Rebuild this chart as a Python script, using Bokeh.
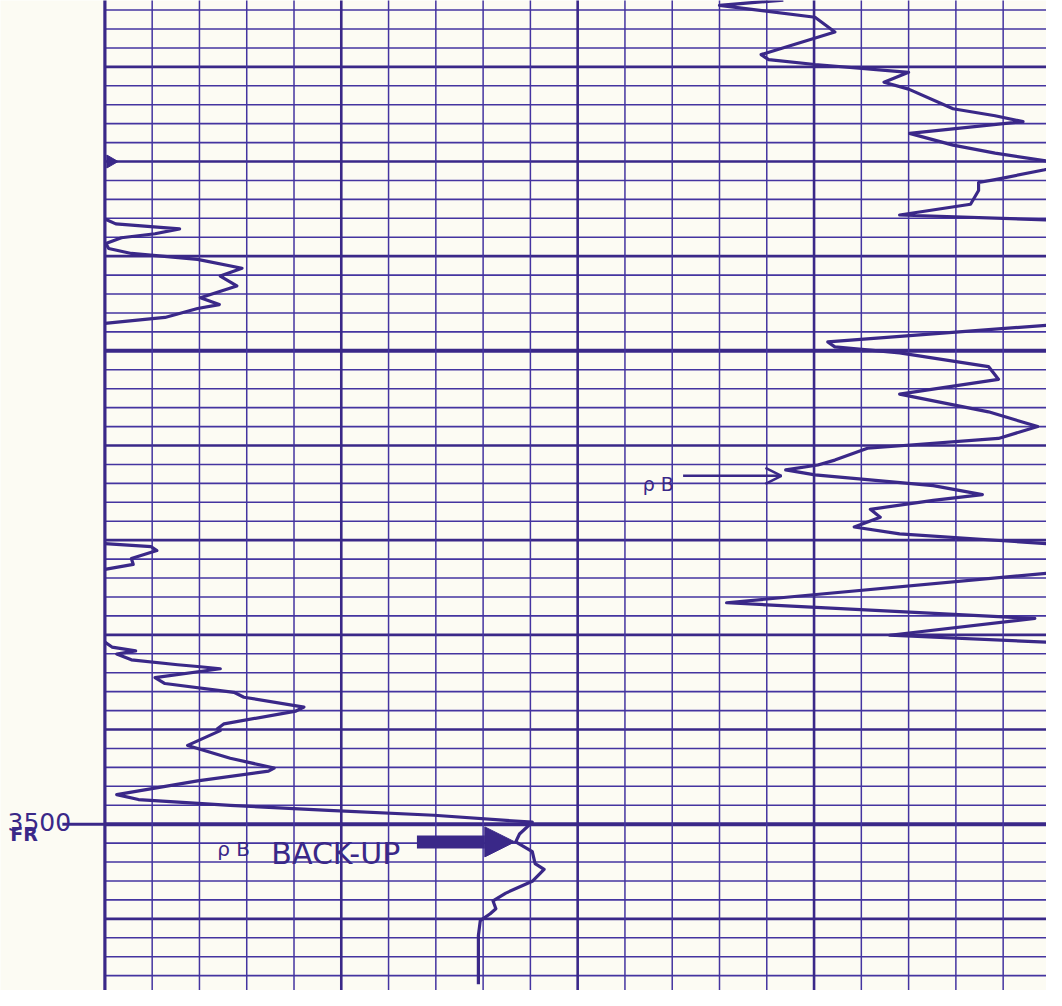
import numpy as np
from bokeh.plotting import figure
from bokeh.models import Range1d, Label, Arrow, NormalHead, OpenHead
from bokeh.embed import file_html
from bokeh.resources import INLINE

# ---------------- data (x = chart divisions 0..20, y = depth in ft) ----------------
# main rho-B curve, upper right portion
main1_value = [14.35, 13.0, 15.02, 15.44, 13.88, 14.04, 15.02, 17.0, 16.48, 17.0, 17.94, 18.83,
               19.42, 17.02, 17.94, 18.83, 19.92, 20.19, 19.88, 18.83, 18.48, 18.48, 18.31,
               16.81, 19.92, 20.29]
main1_depth = [3412.95, 3413.5, 3414.76, 3416.32, 3418.71, 3419.23, 3419.75, 3420.58, 3421.62,
               3422.35, 3424.43, 3425.16, 3425.78, 3427.03, 3428.27, 3429.11, 3429.94, 3430.35,
               3430.87, 3431.91, 3432.22, 3433.06, 3434.51, 3435.65, 3436.17, 3436.27]

# main rho-B curve, middle right portion
main2_value = [20.29, 19.92, 15.29, 15.44, 16.81, 18.69, 18.90, 16.81, 18.69, 19.73, 18.90,
               16.13, 15.44, 15.08, 14.40, 15.02, 17.52, 18.56, 17.52, 16.19, 16.40, 15.85,
               16.81, 19.92, 20.29]
main2_depth = [3447.19, 3447.30, 3449.06, 3449.58, 3450.21, 3451.66, 3453.01, 3454.57, 3456.44,
               3458.0, 3459.25, 3460.29, 3461.54, 3462.06, 3462.58, 3463.10, 3464.24, 3465.18,
               3465.80, 3466.74, 3467.57, 3468.61, 3469.33, 3470.37, 3470.47]

# main rho-B curve, lower right portion
main3_value = [20.29, 19.92, 13.15, 19.67, 16.60, 19.92, 20.29]
main3_depth = [3473.39, 3473.49, 3476.61, 3478.27, 3480.04, 3480.77, 3480.87]

# wrap-around trace in the left of the track
wrap1_value = [0.0, 0.23, 1.58, 1.06, 0.35, 0.02, 0.08, 0.56, 1.96, 2.90, 2.44, 2.79, 2.02,
               2.42, 1.96, 1.27, 0.0]
wrap1_depth = [3436.07, 3436.59, 3437.11, 3437.63, 3438.05, 3438.67, 3439.19, 3439.71, 3440.33,
               3441.27, 3442.10, 3443.14, 3444.39, 3445.11, 3445.53, 3446.47, 3447.09]

wrap2_value = [0.0, 0.98, 1.10, 0.56, 0.60, 0.0]
wrap2_depth = [3470.37, 3470.69, 3471.10, 3471.93, 3472.56, 3473.08]

# wrap-around trace leading into the back-up curve below 3500 ft
wrap3_value = [0.0, 0.15, 0.65, 0.25, 0.56, 1.54, 2.02, 2.44, 1.06, 1.27, 2.73, 2.94, 4.21,
               4.04, 2.52, 2.38, 2.44, 1.75, 2.65, 3.58, 3.46, 1.96, 0.25, 0.71, 2.65, 4.73,
               6.96, 9.04, 8.77, 8.69, 9.04, 9.10, 9.29, 9.04, 8.48, 8.21, 8.27, 8.15, 7.94,
               7.90, 7.90]
wrap3_depth = [3480.77, 3481.29, 3481.70, 3482.02, 3482.64, 3483.16, 3483.37, 3483.58, 3484.51,
               3485.14, 3486.07, 3486.59, 3487.63, 3488.05, 3489.40, 3489.92, 3490.12, 3491.68,
               3493.04, 3494.07, 3494.39, 3495.43, 3496.88, 3497.40, 3498.02, 3498.54, 3499.06,
               3499.79, 3501.04, 3501.87, 3502.91, 3504.16, 3504.78, 3506.03, 3507.28, 3508.11,
               3508.94, 3509.46, 3510.19, 3511.75, 3516.9]

# depth label and marker
depth_label = "3500"
depth_label_sub = "FR"
depth_label_value = 3500
marker_depth = 3430

# annotations
rhob_text = "ρ B"
rhob_arrow_depth = 3463.2
rhob_arrow_from = 12.23
rhob_arrow_to = 14.31
backup_text = "BACK-UP"
backup_arrow_depth = 3501.87
backup_arrow_from = 6.60
backup_arrow_to = 8.67

# grid structure
grid_divisions = list(range(0, 21))
grid_depths = list(range(3412, 3520, 2))

# ---------------- styling ----------------
INK = "#3a2888"
GRID = "#4434a0"
BG = "#fcfbf3"

p = figure(width=1046, height=990, output_backend="svg", toolbar_location=None,
           x_range=Range1d(-2.2083, 19.9167), y_range=Range1d(3517.57, 3412.99),
           x_axis_location=None, y_axis_location=None, min_border=0)
p.outline_line_color = None
p.background_fill_color = BG
p.border_fill_color = BG
p.xgrid.visible = False
p.ygrid.visible = False

# horizontal grid lines (depth)
for d in grid_depths:
    if d % 50 == 0:
        w, c = 4.0, INK
    elif d % 10 == 0:
        w, c = 2.7, INK
    else:
        w, c = 1.6, GRID
    p.segment(x0=[0], y0=[d], x1=[21], y1=[d], line_color=c, line_width=w)

# vertical grid lines
for v in grid_divisions:
    if v == 0:
        w, c = 3.2, INK
    elif v % 5 == 0:
        w, c = 2.6, INK
    else:
        w, c = 1.5, GRID
    p.segment(x0=[v], y0=[3410], x1=[v], y1=[3520], line_color=c, line_width=w)

# curves
for xs, ys in [(main1_value, main1_depth), (main2_value, main2_depth), (main3_value, main3_depth),
               (wrap1_value, wrap1_depth), (wrap2_value, wrap2_depth), (wrap3_value, wrap3_depth)]:
    p.line(xs, ys, line_color=INK, line_width=3.2, line_join="round")

# depth marker triangle at left edge
p.scatter([0.12], [marker_depth], marker="triangle", size=13, angle=-np.pi / 2,
          fill_color=INK, line_color=INK)

# depth tick stub and label
p.segment(x0=[-0.9], y0=[depth_label_value], x1=[0], y1=[depth_label_value],
          line_color=INK, line_width=3)
p.add_layout(Label(x=-2.06, y=depth_label_value, text=depth_label, y_offset=2,
                   text_font="DejaVu Sans", text_font_size="25px", text_color=INK,
                   text_baseline="alphabetic"))
p.add_layout(Label(x=-2.0, y=depth_label_value, text=depth_label_sub, y_offset=-10,
                   text_font="DejaVu Sans", text_font_size="19px", text_font_style="bold",
                   text_color=INK, text_baseline="alphabetic"))

# rho-B annotation with thin arrow
p.add_layout(Label(x=11.375, y=3464.1, text=rhob_text, text_font="DejaVu Sans",
                   text_font_size="19px", text_color=INK, text_baseline="alphabetic"))
p.add_layout(Arrow(end=OpenHead(size=16, line_color=INK, line_width=2.5),
                   x_start=rhob_arrow_from, y_start=rhob_arrow_depth,
                   x_end=rhob_arrow_to, y_end=rhob_arrow_depth,
                   line_color=INK, line_width=2.5))

# back-up annotation with heavy arrow
p.add_layout(Label(x=2.375, y=3502.6, text=rhob_text, text_font="DejaVu Sans",
                   text_font_size="20px", text_color=INK, text_baseline="alphabetic"))
p.add_layout(Label(x=3.52, y=3503.12, text=backup_text, text_font="DejaVu Sans",
                   text_font_size="30px", text_color=INK, text_baseline="alphabetic"))
p.add_layout(Arrow(end=NormalHead(size=30, fill_color=INK, line_color=INK),
                   x_start=backup_arrow_from, y_start=backup_arrow_depth,
                   x_end=backup_arrow_to, y_end=backup_arrow_depth,
                   line_color=INK, line_width=13, line_cap="butt"))

open("out.html", "w").write(file_html(p, INLINE))
